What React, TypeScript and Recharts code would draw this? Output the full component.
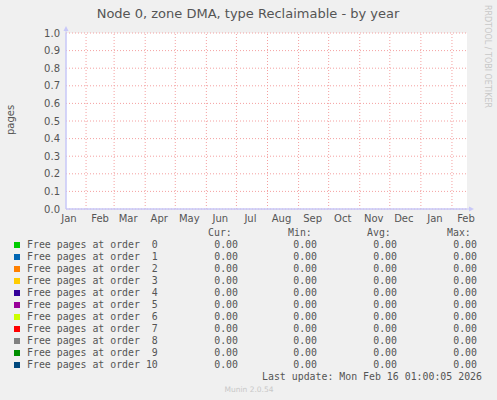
import React from 'react';
import { AreaChart, Area, XAxis, YAxis, CartesianGrid, ReferenceLine } from 'recharts';

// sample times, days since start of the 400 day window (Jan 12 2025 .. Feb 16 2026)
const DAYS = [0, 100, 200, 300, 400];

const order0 = [0, 0, 0, 0, 0];
const order1 = [0, 0, 0, 0, 0];
const order2 = [0, 0, 0, 0, 0];
const order3 = [0, 0, 0, 0, 0];
const order4 = [0, 0, 0, 0, 0];
const order5 = [0, 0, 0, 0, 0];
const order6 = [0, 0, 0, 0, 0];
const order7 = [0, 0, 0, 0, 0];
const order8 = [0, 0, 0, 0, 0];
const order9 = [0, 0, 0, 0, 0];
const order10 = [0, 0, 0, 0, 0];

const SERIES_NAMES = [
  'Free pages at order  0',
  'Free pages at order  1',
  'Free pages at order  2',
  'Free pages at order  3',
  'Free pages at order  4',
  'Free pages at order  5',
  'Free pages at order  6',
  'Free pages at order  7',
  'Free pages at order  8',
  'Free pages at order  9',
  'Free pages at order 10',
];
const SERIES_COLORS = [
  '#00cc00', '#0066b3', '#ff8000', '#ffcc00', '#330099', '#990099',
  '#ccff00', '#ff0000', '#808080', '#008f00', '#00487d',
];
const SERIES_VALUES = [order0, order1, order2, order3, order4, order5, order6, order7, order8, order9, order10];

// month starts (grid) and mid-month (labels), in days from window start
const MONTH_STARTS = [20, 48, 79, 109, 140, 170, 201, 232, 262, 293, 323, 354, 385];
const MONTH_LABEL_DAYS = [3, 34, 62, 93, 123, 154, 184, 215, 246, 276, 307, 337, 368, 399];
const MONTH_LABELS = ['Jan', 'Feb', 'Mar', 'Apr', 'May', 'Jun', 'Jul', 'Aug', 'Sep', 'Oct', 'Nov', 'Dec', 'Jan', 'Feb'];
const Y_TICKS = [0, 0.1, 0.2, 0.3, 0.4, 0.5, 0.6, 0.7, 0.8, 0.9, 1.0];

const TITLE = 'Node 0, zone DMA, type Reclaimable - by year';
const LAST_UPDATE = 'Last update: Mon Feb 16 01:00:05 2026';

const data = DAYS.map((d, i) => {
  const row: Record<string, number> = { day: d };
  SERIES_VALUES.forEach((vals, s) => { row['s' + s] = vals[i]; });
  return row;
});

const AXIS = '#c8c8f8';
const GRID = '#f4a0a0';
const TEXT = '#555';
const SANS = '"DejaVu Sans", sans-serif';
const MONO = '"DejaVu Sans Mono", monospace';

const YArrow = (props: any) => {
  const { x, y } = props.viewBox;
  return (
    <g>
      <line x1={x} y1={y} x2={x} y2={y - 4} stroke={AXIS} />
      <path d={`M${x - 2.5},${y - 2} L${x + 2.5},${y - 2} L${x},${y - 7} Z`} fill={AXIS} />
    </g>
  );
};

const XArrow = (props: any) => {
  const { x, y, width } = props.viewBox;
  const r = x + width;
  return (
    <g>
      <line x1={r} y1={y} x2={r + 3} y2={y} stroke={AXIS} />
      <path d={`M${r + 2},${y - 2.5} L${r + 2},${y + 2.5} L${r + 7},${y} Z`} fill={AXIS} />
    </g>
  );
};

const fmt = (v: number) => v.toFixed(2);

const App: React.FC = () => {
  const rowY = (i: number) => 248 + i * 12;
  return (
    <div style={{ position: 'absolute', left: 0, top: 0, width: 497, height: 400, background: '#f0f0f0' }}>
      <AreaChart
        width={497}
        height={400}
        data={data}
        margin={{ top: 33, right: 30, left: 6, bottom: 171 }}
      >
        <CartesianGrid vertical={false} fill="#ffffff" stroke={GRID} strokeDasharray="1 2" />
        <XAxis
          dataKey="day"
          type="number"
          domain={[0, 400]}
          ticks={MONTH_LABEL_DAYS}
          tickFormatter={(v: number) => MONTH_LABELS[MONTH_LABEL_DAYS.indexOf(v)]}
          interval={0}
          height={20}
          tickLine={false}
          tickSize={6}
          tickMargin={0}
          axisLine={{ stroke: AXIS }}
          tick={{ fill: TEXT, fontSize: 10, fontFamily: SANS }}
        />
        <YAxis
          domain={[0, 1]}
          ticks={Y_TICKS}
          interval={0}
          width={60}
          tickLine={false}
          tickSize={4}
          tickMargin={2}
          tickFormatter={(v: number) => v.toFixed(1)}
          axisLine={{ stroke: AXIS }}
          tick={{ fill: TEXT, fontSize: 10, fontFamily: SANS }}
        />
        {MONTH_STARTS.map((d) => (
          <ReferenceLine key={d} x={d} stroke={GRID} strokeDasharray="1 2" />
        ))}
        {SERIES_NAMES.map((name, s) => (
          <Area
            key={name}
            type="linear"
            dataKey={'s' + s}
            name={name}
            stackId="a"
            fill={SERIES_COLORS[s]}
            fillOpacity={1}
            stroke="none"
            isAnimationActive={false}
          />
        ))}
        <ReferenceLine x={0} stroke={AXIS} label={<YArrow />} />
        <ReferenceLine y={0} stroke={AXIS} label={<XArrow />} />
      </AreaChart>

      <svg width={497} height={400} style={{ position: 'absolute', left: 0, top: 0, pointerEvents: 'none' }}>
        <text x={248} y={18} textAnchor="middle" fontFamily={SANS} fontSize={13} fill={TEXT}>{TITLE}</text>
        <text transform="translate(14,120) rotate(-90)" textAnchor="middle" fontFamily={SANS} fontSize={10} fill={TEXT}>pages</text>
        <text transform="translate(485,5) rotate(90)" fontFamily={SANS} fontSize={8} fill="#c8c8c8">RRDTOOL / TOBI OETIKER</text>

        <g fontFamily={MONO} fontSize={9.9} fill={TEXT}>
          <text x={208} y={236}>Cur:</text>
          <text x={288} y={236}>Min:</text>
          <text x={367} y={236}>Avg:</text>
          <text x={447} y={236}>Max:</text>
          {SERIES_NAMES.map((name, s) => {
            const vals = SERIES_VALUES[s];
            const cur = vals[vals.length - 1];
            const min = Math.min(...vals);
            const max = Math.max(...vals);
            const avg = vals.reduce((a, b) => a + b, 0) / vals.length;
            return (
              <g key={name}>
                <rect x={14} y={rowY(s) - 6} width={6} height={6} fill={SERIES_COLORS[s]} />
                <text x={27} y={rowY(s)} xmlSpace="preserve" style={{ whiteSpace: 'pre' }}>{name}</text>
                <text x={238} y={rowY(s)} textAnchor="end">{fmt(cur)}</text>
                <text x={317} y={rowY(s)} textAnchor="end">{fmt(min)}</text>
                <text x={397} y={rowY(s)} textAnchor="end">{fmt(avg)}</text>
                <text x={477} y={rowY(s)} textAnchor="end">{fmt(max)}</text>
              </g>
            );
          })}
          <text x={482} y={380} textAnchor="end">{LAST_UPDATE}</text>
        </g>
        <text x={249} y={392} textAnchor="middle" fontFamily={SANS} fontSize={7.5} fill="#c8c8c8">Munin 2.0.54</text>
      </svg>
    </div>
  );
};

export default App;
